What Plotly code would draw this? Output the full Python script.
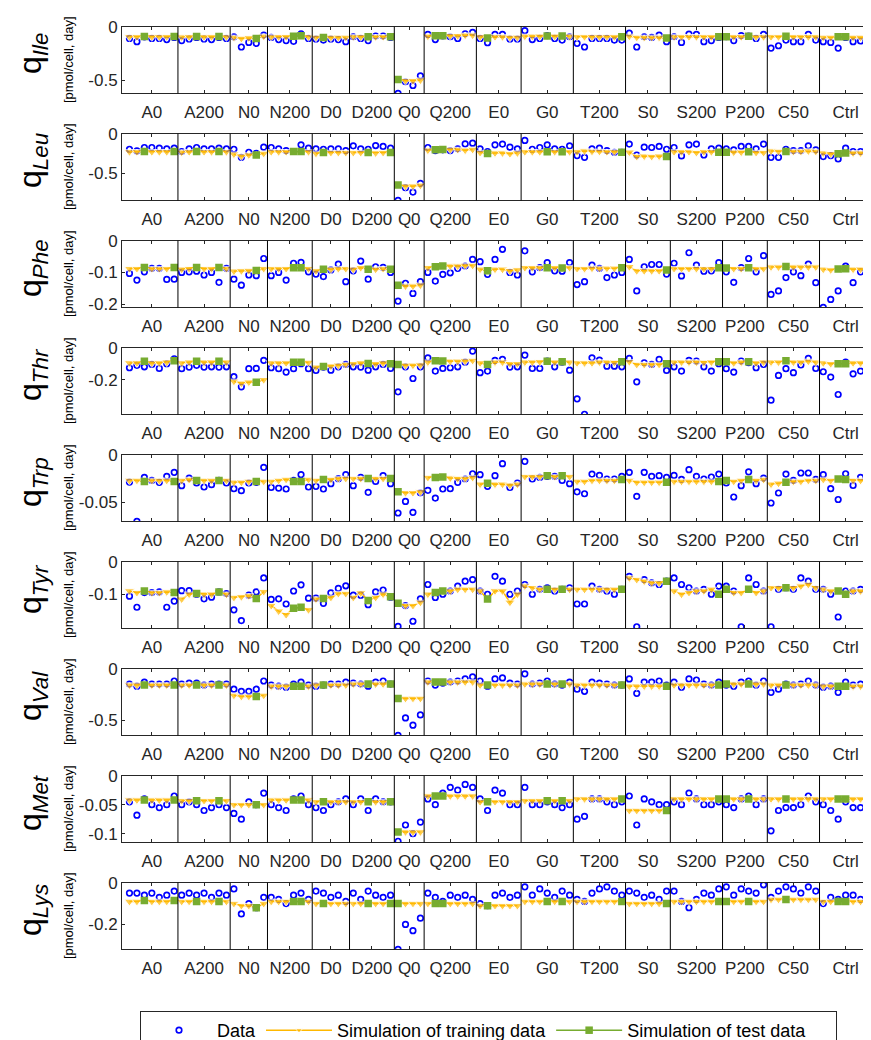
import plotly.graph_objects as go

categories = ["A0", "A200", "N0", "N200", "D0", "D200", "Q0", "Q200", "E0", "G0",
              "T200", "S0", "S200", "P200", "C50", "Ctrl"]
group_sizes = [7, 7, 5, 6, 5, 6, 4, 7, 6, 7, 7, 6, 7, 6, 7, 7]
test_points = [3, 7, 10, 13, 18, 23, 24, 27, 33, 36, 37, 42, 43, 49, 57, 59, 67, 73,
               80, 81, 84, 89, 96, 97]

names = ["Ile", "Leu", "Phe", "Thr", "Trp", "Tyr", "Val", "Met", "Lys"]

data_ile = [-0.11, -0.14, -0.095, -0.11, -0.11, -0.12, -0.10,
            -0.13, -0.115, -0.10, -0.115, -0.12, -0.10, -0.11,
            -0.095, -0.19, -0.147, -0.156, -0.078,
            -0.10, -0.12, -0.13, -0.137, -0.066, -0.11,
            -0.115, -0.125, -0.115, -0.12, -0.14,
            -0.094, -0.11, -0.13, -0.087, -0.087, -0.10,
            -0.624, -0.515, -0.55, -0.46,
            -0.072, -0.12, -0.087, -0.094, -0.11, -0.066, -0.053,
            -0.11, -0.15, -0.072, -0.072, -0.115, -0.115,
            -0.037, -0.12, -0.11, -0.084, -0.11, -0.125, -0.094,
            -0.156, -0.19, -0.11, -0.11, -0.11, -0.125, -0.125,
            -0.06, -0.19, -0.094, -0.10, -0.078, -0.14,
            -0.094, -0.147, -0.069, -0.072, -0.14, -0.13, -0.10,
            -0.094, -0.13, -0.084, -0.087, -0.11, -0.072,
            -0.20, -0.178, -0.125, -0.14, -0.14, -0.072, -0.125,
            -0.14, -0.147, -0.20, -0.10, -0.14, -0.134, -0.13]
sim_ile = [-0.095, -0.095, -0.092, -0.095, -0.095, -0.095, -0.092,
           -0.097, -0.095, -0.092, -0.095, -0.095, -0.092, -0.095,
           -0.10, -0.11, -0.105, -0.11, -0.09,
           -0.095, -0.095, -0.095, -0.09, -0.085, -0.095,
           -0.10, -0.10, -0.10, -0.10, -0.10,
           -0.095, -0.095, -0.095, -0.095, -0.095, -0.095,
           -0.495, -0.505, -0.505, -0.50,
           -0.09, -0.085, -0.085, -0.085, -0.085, -0.08, -0.08,
           -0.095, -0.105, -0.095, -0.095, -0.10, -0.10,
           -0.09, -0.09, -0.09, -0.088, -0.09, -0.088, -0.09,
           -0.095, -0.095, -0.095, -0.095, -0.095, -0.095, -0.095,
           -0.09, -0.10, -0.10, -0.10, -0.10, -0.105,
           -0.095, -0.095, -0.095, -0.095, -0.095, -0.095, -0.095,
           -0.095, -0.095, -0.095, -0.09, -0.095, -0.095,
           -0.095, -0.095, -0.09, -0.095, -0.095, -0.095, -0.095,
           -0.10, -0.10, -0.095, -0.095, -0.10, -0.10, -0.10]

data_leu = [-0.197, -0.218, -0.175, -0.175, -0.184, -0.192, -0.184,
            -0.226, -0.192, -0.175, -0.192, -0.192, -0.184, -0.192,
            -0.197, -0.30, -0.235, -0.248, -0.171,
            -0.175, -0.192, -0.214, -0.226, -0.141, -0.184,
            -0.192, -0.197, -0.192, -0.192, -0.214,
            -0.154, -0.192, -0.197, -0.15, -0.162, -0.184,
            -0.846, -0.684, -0.74, -0.63,
            -0.175, -0.214, -0.205, -0.214, -0.192, -0.13, -0.12,
            -0.192, -0.226, -0.141, -0.132, -0.171, -0.192,
            -0.085, -0.197, -0.175, -0.141, -0.192, -0.197, -0.154,
            -0.278, -0.30, -0.192, -0.184, -0.214, -0.235, -0.235,
            -0.132, -0.27, -0.171, -0.175, -0.162, -0.197,
            -0.175, -0.282, -0.141, -0.132, -0.27, -0.192, -0.184,
            -0.192, -0.205, -0.162, -0.162, -0.192, -0.132,
            -0.30, -0.30, -0.197, -0.214, -0.214, -0.154, -0.205,
            -0.29, -0.278, -0.32, -0.184, -0.226, -0.226, -0.226]
sim_leu = [-0.23, -0.23, -0.225, -0.23, -0.23, -0.23, -0.225,
           -0.235, -0.23, -0.225, -0.23, -0.23, -0.225, -0.23,
           -0.26, -0.285, -0.27, -0.27, -0.25,
           -0.23, -0.23, -0.23, -0.225, -0.225, -0.23,
           -0.25, -0.24, -0.24, -0.24, -0.24,
           -0.24, -0.24, -0.24, -0.245, -0.24, -0.24,
           -0.65, -0.665, -0.665, -0.655,
           -0.21, -0.205, -0.20, -0.20, -0.20, -0.21, -0.20,
           -0.24, -0.25, -0.245, -0.245, -0.255, -0.245,
           -0.23, -0.23, -0.23, -0.23, -0.23, -0.23, -0.23,
           -0.23, -0.22, -0.225, -0.225, -0.23, -0.23, -0.235,
           -0.235, -0.29, -0.285, -0.29, -0.285, -0.29,
           -0.23, -0.23, -0.23, -0.24, -0.23, -0.23, -0.235,
           -0.235, -0.235, -0.235, -0.23, -0.24, -0.24,
           -0.22, -0.225, -0.225, -0.225, -0.225, -0.22, -0.225,
           -0.245, -0.255, -0.255, -0.245, -0.245, -0.245, -0.245]

data_phe = [-0.103, -0.124, -0.098, -0.087, -0.087, -0.122, -0.121,
            -0.10, -0.098, -0.096, -0.108, -0.10, -0.131, -0.087,
            -0.121, -0.14, -0.108, -0.11, -0.056,
            -0.11, -0.10, -0.124, -0.071, -0.068, -0.098,
            -0.105, -0.113, -0.092, -0.074, -0.129,
            -0.095, -0.064, -0.121, -0.082, -0.084, -0.10,
            -0.19, -0.134, -0.166, -0.129,
            -0.10, -0.127, -0.106, -0.101, -0.087, -0.08, -0.059,
            -0.066, -0.106, -0.059, -0.027, -0.10, -0.108,
            -0.032, -0.098, -0.085, -0.069, -0.095, -0.096, -0.069,
            -0.138, -0.129, -0.077, -0.087, -0.116, -0.108, -0.10,
            -0.059, -0.158, -0.082, -0.075, -0.075, -0.105,
            -0.071, -0.111, -0.038, -0.077, -0.096, -0.095, -0.069,
            -0.098, -0.131, -0.085, -0.056, -0.098, -0.047,
            -0.169, -0.158, -0.116, -0.098, -0.11, -0.074, -0.132,
            -0.21, -0.185, -0.158, -0.08, -0.132, -0.098, -0.145]
sim_phe = [-0.088, -0.088, -0.084, -0.088, -0.088, -0.088, -0.084,
           -0.09, -0.088, -0.084, -0.088, -0.088, -0.084, -0.088,
           -0.096, -0.095, -0.094, -0.094, -0.088,
           -0.088, -0.088, -0.088, -0.085, -0.085, -0.088,
           -0.095, -0.09, -0.09, -0.088, -0.088,
           -0.09, -0.085, -0.09, -0.09, -0.088, -0.09,
           -0.14, -0.143, -0.143, -0.14,
           -0.085, -0.082, -0.08, -0.08, -0.08, -0.078, -0.078,
           -0.09, -0.095, -0.09, -0.09, -0.095, -0.092,
           -0.085, -0.085, -0.085, -0.085, -0.085, -0.086, -0.085,
           -0.088, -0.088, -0.087, -0.087, -0.087, -0.087, -0.085,
           -0.082, -0.095, -0.095, -0.095, -0.095, -0.092,
           -0.088, -0.088, -0.088, -0.088, -0.088, -0.088, -0.085,
           -0.086, -0.088, -0.088, -0.085, -0.088, -0.088,
           -0.083, -0.083, -0.081, -0.083, -0.083, -0.083, -0.083,
           -0.09, -0.092, -0.089, -0.088, -0.09, -0.09, -0.09]

data_thr = [-0.125, -0.11, -0.119, -0.104, -0.129, -0.10, -0.069,
            -0.131, -0.121, -0.11, -0.121, -0.119, -0.121, -0.119,
            -0.181, -0.244, -0.131, -0.129, -0.079,
            -0.125, -0.131, -0.152, -0.131, -0.10, -0.131,
            -0.142, -0.121, -0.14, -0.119, -0.104,
            -0.119, -0.121, -0.14, -0.119, -0.104, -0.129,
            -0.275, -0.119, -0.192, -0.119,
            -0.063, -0.146, -0.129, -0.125, -0.119, -0.09, -0.021,
            -0.156, -0.146, -0.079, -0.073, -0.121, -0.119,
            -0.046, -0.129, -0.129, -0.083, -0.119, -0.09, -0.14,
            -0.319, -0.415, -0.063, -0.077, -0.115, -0.115, -0.119,
            -0.067, -0.213, -0.094, -0.104, -0.073, -0.142,
            -0.119, -0.146, -0.079, -0.083, -0.119, -0.146, -0.10,
            -0.131, -0.152, -0.083, -0.094, -0.125, -0.104,
            -0.327, -0.173, -0.131, -0.156, -0.108, -0.067, -0.129,
            -0.15, -0.183, -0.292, -0.09, -0.163, -0.146, -0.142]
sim_thr = [-0.095, -0.095, -0.085, -0.095, -0.095, -0.09, -0.082,
           -0.095, -0.09, -0.085, -0.09, -0.09, -0.085, -0.09,
           -0.21, -0.222, -0.215, -0.215, -0.20,
           -0.095, -0.095, -0.095, -0.09, -0.09, -0.092,
           -0.122, -0.118, -0.115, -0.11, -0.105,
           -0.10, -0.095, -0.098, -0.10, -0.095, -0.10,
           -0.104, -0.11, -0.11, -0.108,
           -0.09, -0.082, -0.083, -0.085, -0.085, -0.083, -0.08,
           -0.095, -0.104, -0.09, -0.09, -0.10, -0.10,
           -0.09, -0.09, -0.088, -0.085, -0.09, -0.088, -0.09,
           -0.095, -0.095, -0.095, -0.09, -0.09, -0.092, -0.088,
           -0.088, -0.105, -0.105, -0.105, -0.105, -0.10,
           -0.09, -0.09, -0.09, -0.09, -0.092, -0.09, -0.088,
           -0.088, -0.095, -0.09, -0.088, -0.095, -0.09,
           -0.09, -0.09, -0.082, -0.09, -0.09, -0.085, -0.09,
           -0.095, -0.10, -0.10, -0.10, -0.095, -0.095, -0.095]

data_trp = [-0.0287, -0.070, -0.0238, -0.027, -0.029, -0.0227, -0.0185,
            -0.0325, -0.0245, -0.0297, -0.0339, -0.0315, -0.027, -0.0297,
            -0.0357, -0.0378, -0.0297, -0.029, -0.0133,
            -0.0343, -0.035, -0.036, -0.027, -0.021, -0.0339,
            -0.0332, -0.036, -0.0304, -0.0252, -0.021,
            -0.0325, -0.0238, -0.0395, -0.028, -0.022, -0.0304,
            -0.0612, -0.049, -0.0605, -0.040,
            -0.0374, -0.0455, -0.036, -0.0357, -0.029, -0.0255, -0.020,
            -0.021, -0.0332, -0.022, -0.0094, -0.0343, -0.0297,
            -0.007, -0.0255, -0.0238, -0.0227, -0.0227, -0.027, -0.0304,
            -0.039, -0.041, -0.0203, -0.0217, -0.0255, -0.0255, -0.0227,
            -0.0185, -0.0437, -0.0185, -0.0227, -0.022, -0.0238,
            -0.0217, -0.026, -0.0157, -0.0227, -0.0255, -0.0234, -0.0203,
            -0.0297, -0.0444, -0.0325, -0.018, -0.0304, -0.0245,
            -0.0507, -0.0402, -0.0203, -0.027, -0.0192, -0.0192, -0.026,
            -0.021, -0.0357, -0.047, -0.020, -0.0322, -0.0238, -0.0332]
sim_trp = [-0.027, -0.027, -0.028, -0.027, -0.027, -0.027, -0.028,
           -0.027, -0.026, -0.027, -0.027, -0.027, -0.027, -0.027,
           -0.029, -0.029, -0.028, -0.028, -0.028,
           -0.028, -0.027, -0.026, -0.028, -0.028, -0.026,
           -0.027, -0.026, -0.026, -0.025, -0.025,
           -0.025, -0.025, -0.025, -0.025, -0.025, -0.025,
           -0.039, -0.040, -0.040, -0.039,
           -0.024, -0.024, -0.0235, -0.0245, -0.025, -0.025, -0.024,
           -0.031, -0.030, -0.031, -0.031, -0.032, -0.031,
           -0.023, -0.023, -0.023, -0.022, -0.023, -0.022, -0.023,
           -0.028, -0.028, -0.027, -0.027, -0.027, -0.027, -0.026,
           -0.027, -0.029, -0.029, -0.029, -0.029, -0.029,
           -0.028, -0.028, -0.028, -0.028, -0.028, -0.028, -0.028,
           -0.027, -0.028, -0.027, -0.026, -0.027, -0.026,
           -0.031, -0.030, -0.029, -0.028, -0.028, -0.027, -0.027,
           -0.026, -0.027, -0.0255, -0.026, -0.027, -0.027, -0.027]

data_tyr = [-0.106, -0.14, -0.095, -0.095, -0.093, -0.14, -0.121,
            -0.089, -0.089, -0.10, -0.114, -0.109, -0.093, -0.098,
            -0.148, -0.181, -0.103, -0.093, -0.05,
            -0.116, -0.114, -0.13, -0.09, -0.071, -0.112,
            -0.112, -0.128, -0.096, -0.082, -0.074,
            -0.103, -0.103, -0.132, -0.093, -0.087, -0.109,
            -0.199, -0.135, -0.183, -0.114,
            -0.07, -0.11, -0.10, -0.09, -0.075, -0.06, -0.055,
            -0.09, -0.10, -0.045, -0.06, -0.10, -0.09,
            -0.07, -0.10, -0.085, -0.08, -0.09, -0.085, -0.08,
            -0.13, -0.13, -0.075, -0.085, -0.09, -0.10, -0.085,
            -0.045, -0.20, -0.055, -0.065, -0.07, -0.06,
            -0.05, -0.07, -0.08, -0.09, -0.085, -0.10, -0.075,
            -0.075, -0.09, -0.20, -0.05, -0.07, -0.09,
            -0.20, -0.085, -0.08, -0.085, -0.05, -0.06, -0.085,
            -0.085, -0.10, -0.17, -0.09, -0.09, -0.085, -0.09]
sim_tyr = [-0.09, -0.095, -0.09, -0.095, -0.095, -0.093, -0.095,
           -0.115, -0.10, -0.098, -0.10, -0.10, -0.093, -0.10,
           -0.11, -0.108, -0.105, -0.113, -0.092,
           -0.135, -0.152, -0.163, -0.143, -0.14, -0.148,
           -0.115, -0.113, -0.11, -0.098, -0.098,
           -0.11, -0.096, -0.119, -0.11, -0.10, -0.108,
           -0.128, -0.135, -0.135, -0.125,
           -0.10, -0.095, -0.09, -0.09, -0.085, -0.085, -0.085,
           -0.09, -0.115, -0.09, -0.09, -0.125, -0.10,
           -0.075, -0.08, -0.085, -0.085, -0.085, -0.085, -0.085,
           -0.085, -0.085, -0.085, -0.085, -0.085, -0.085, -0.085,
           -0.05, -0.055, -0.06, -0.065, -0.065, -0.06,
           -0.09, -0.10, -0.095, -0.09, -0.09, -0.085, -0.10,
           -0.085, -0.095, -0.095, -0.085, -0.095, -0.09,
           -0.08, -0.08, -0.08, -0.08, -0.075, -0.07, -0.08,
           -0.085, -0.09, -0.09, -0.10, -0.09, -0.09, -0.09]

data_val = [-0.15, -0.17, -0.13, -0.15, -0.15, -0.15, -0.12,
            -0.15, -0.14, -0.14, -0.16, -0.15, -0.15, -0.15,
            -0.20, -0.22, -0.22, -0.20, -0.12,
            -0.16, -0.17, -0.18, -0.15, -0.13, -0.16,
            -0.17, -0.16, -0.15, -0.15, -0.13,
            -0.14, -0.15, -0.17, -0.13, -0.12, -0.15,
            -0.65, -0.48, -0.55, -0.45,
            -0.12, -0.16, -0.14, -0.13, -0.12, -0.10, -0.08,
            -0.12, -0.17, -0.10, -0.09, -0.14, -0.15,
            -0.05, -0.15, -0.14, -0.12, -0.15, -0.16, -0.13,
            -0.20, -0.22, -0.13, -0.14, -0.15, -0.16, -0.16,
            -0.10, -0.24, -0.13, -0.13, -0.12, -0.16,
            -0.13, -0.18, -0.10, -0.11, -0.15, -0.16, -0.13,
            -0.16, -0.17, -0.13, -0.12, -0.16, -0.12,
            -0.23, -0.20, -0.15, -0.16, -0.15, -0.12, -0.16,
            -0.18, -0.17, -0.23, -0.13, -0.16, -0.15, -0.16]
sim_val = [-0.16, -0.16, -0.16, -0.16, -0.16, -0.16, -0.16,
           -0.16, -0.16, -0.16, -0.16, -0.16, -0.16, -0.16,
           -0.26, -0.27, -0.27, -0.27, -0.26,
           -0.17, -0.17, -0.17, -0.17, -0.17, -0.17,
           -0.16, -0.16, -0.16, -0.16, -0.16,
           -0.15, -0.15, -0.15, -0.15, -0.15, -0.15,
           -0.29, -0.29, -0.29, -0.29,
           -0.13, -0.13, -0.13, -0.13, -0.13, -0.13, -0.13,
           -0.16, -0.16, -0.16, -0.16, -0.16, -0.16,
           -0.15, -0.15, -0.15, -0.15, -0.15, -0.15, -0.15,
           -0.16, -0.16, -0.16, -0.16, -0.16, -0.16, -0.16,
           -0.17, -0.17, -0.17, -0.17, -0.17, -0.17,
           -0.16, -0.16, -0.16, -0.16, -0.16, -0.16, -0.16,
           -0.15, -0.15, -0.15, -0.15, -0.15, -0.15,
           -0.16, -0.16, -0.16, -0.16, -0.16, -0.16, -0.16,
           -0.17, -0.17, -0.17, -0.17, -0.17, -0.17, -0.17]

data_met = [-0.045, -0.068, -0.04, -0.05, -0.055, -0.05, -0.035,
            -0.05, -0.045, -0.05, -0.06, -0.055, -0.05, -0.055,
            -0.065, -0.075, -0.045, -0.05, -0.03,
            -0.05, -0.055, -0.06, -0.04, -0.035, -0.05,
            -0.055, -0.06, -0.05, -0.045, -0.04,
            -0.05, -0.04, -0.06, -0.04, -0.045, -0.045,
            -0.113, -0.085, -0.10, -0.08,
            -0.04, -0.05, -0.03, -0.02, -0.025, -0.015, -0.02,
            -0.04, -0.06, -0.025, -0.03, -0.05, -0.05,
            -0.02, -0.05, -0.05, -0.045, -0.05, -0.055, -0.05,
            -0.075, -0.07, -0.04, -0.04, -0.045, -0.05, -0.045,
            -0.035, -0.085, -0.04, -0.045, -0.05, -0.05,
            -0.045, -0.05, -0.03, -0.04, -0.05, -0.05, -0.045,
            -0.05, -0.055, -0.04, -0.035, -0.05, -0.04,
            -0.095, -0.06, -0.055, -0.055, -0.05, -0.035, -0.045,
            -0.05, -0.06, -0.075, -0.045, -0.055, -0.055, -0.055]
sim_met = [-0.042, -0.042, -0.042, -0.042, -0.042, -0.042, -0.042,
           -0.043, -0.043, -0.043, -0.043, -0.043, -0.043, -0.043,
           -0.05, -0.05, -0.05, -0.05, -0.05,
           -0.042, -0.042, -0.042, -0.042, -0.042, -0.042,
           -0.045, -0.045, -0.045, -0.045, -0.045,
           -0.045, -0.045, -0.045, -0.045, -0.045, -0.045,
           -0.097, -0.097, -0.097, -0.097,
           -0.035, -0.035, -0.035, -0.035, -0.035, -0.035, -0.035,
           -0.045, -0.045, -0.045, -0.045, -0.045, -0.045,
           -0.043, -0.043, -0.043, -0.043, -0.043, -0.043, -0.043,
           -0.04, -0.04, -0.04, -0.04, -0.04, -0.04, -0.04,
           -0.06, -0.06, -0.06, -0.06, -0.06, -0.06,
           -0.04, -0.04, -0.04, -0.04, -0.04, -0.04, -0.04,
           -0.04, -0.04, -0.04, -0.04, -0.04, -0.04,
           -0.04, -0.04, -0.04, -0.04, -0.04, -0.04, -0.04,
           -0.04, -0.04, -0.04, -0.04, -0.04, -0.04, -0.04]

data_lys = [-0.05, -0.05, -0.06, -0.05, -0.07, -0.06, -0.04,
            -0.06, -0.05, -0.06, -0.05, -0.07, -0.05, -0.06,
            -0.03, -0.15, -0.10, -0.12, -0.07,
            -0.07, -0.08, -0.10, -0.06, -0.05, -0.08,
            -0.04, -0.05, -0.07, -0.06, -0.09,
            -0.05, -0.08, -0.04, -0.06, -0.07, -0.06,
            -0.32, -0.20, -0.23, -0.17,
            -0.05, -0.07, -0.09, -0.06, -0.07, -0.06, -0.08,
            -0.10, -0.11, -0.06, -0.05, -0.07, -0.06,
            -0.02, -0.06, -0.03, -0.05, -0.07, -0.04, -0.06,
            -0.08, -0.09, -0.05, -0.03, -0.02, -0.04, -0.06,
            -0.04, -0.05, -0.07, -0.06, -0.08, -0.04,
            -0.04, -0.09, -0.12, -0.08, -0.05, -0.06, -0.03,
            -0.02, -0.06, -0.03, -0.04, -0.05, -0.01,
            -0.07, -0.04, -0.02, -0.03, -0.05, -0.02, -0.04,
            -0.10, -0.07, -0.08, -0.06, -0.06, -0.08, -0.07]
sim_lys = [-0.09, -0.09, -0.085, -0.09, -0.09, -0.09, -0.085,
           -0.09, -0.09, -0.09, -0.09, -0.09, -0.09, -0.09,
           -0.10, -0.11, -0.11, -0.12, -0.10,
           -0.09, -0.09, -0.09, -0.09, -0.09, -0.09,
           -0.10, -0.10, -0.10, -0.10, -0.10,
           -0.10, -0.10, -0.10, -0.10, -0.10, -0.10,
           -0.10, -0.10, -0.10, -0.10,
           -0.10, -0.10, -0.10, -0.10, -0.10, -0.10, -0.10,
           -0.11, -0.11, -0.11, -0.11, -0.11, -0.11,
           -0.09, -0.09, -0.09, -0.09, -0.09, -0.09, -0.09,
           -0.09, -0.09, -0.09, -0.09, -0.09, -0.09, -0.09,
           -0.10, -0.10, -0.10, -0.10, -0.10, -0.10,
           -0.09, -0.09, -0.09, -0.09, -0.09, -0.09, -0.09,
           -0.09, -0.09, -0.09, -0.09, -0.09, -0.09,
           -0.08, -0.08, -0.08, -0.08, -0.08, -0.08, -0.08,
           -0.09, -0.09, -0.09, -0.09, -0.09, -0.09, -0.09]

y_ranges = [[-0.624, 0], [-0.846, 0], [-0.21, 0], [-0.416, 0], [-0.07, 0],
            [-0.205, 0], [-0.65, 0], [-0.115, 0], [-0.32, 0]]
y_ticks = [[0, -0.5], [0, -0.5], [0, -0.1, -0.2], [0, -0.2], [0, -0.05],
           [0, -0.1], [0, -0.5], [0, -0.05, -0.1], [0, -0.2]]

all_data = [data_ile, data_leu, data_phe, data_thr, data_trp, data_tyr, data_val, data_met, data_lys]
all_sim = [sim_ile, sim_leu, sim_phe, sim_thr, sim_trp, sim_tyr, sim_val, sim_met, sim_lys]

# ---------------- layout geometry (page is offset 8px by the body margin) ----------------
OFF = 8
W, H = 871 - OFF, 1040 - OFF
LEFT = 122 - OFF
TOP0 = 26.7 - OFF
STEP = 107.0
PH = 66.7

x_idx = list(range(1, 101))
bounds = []
c = 0
for g in group_sizes:
    bounds.append((c + 1, c + g))
    c += g
centers = [(a + b) / 2 for a, b in bounds]
seps = [b + 0.5 for a, b in bounds[:-1]]

BLUE = "#0000FF"
ORANGE = "#FFB800"
GREEN = "#77AC30"
TXT = "#262626"
FONT = "Liberation Sans, Arial, sans-serif"

fig = go.Figure()
layout = dict(width=W, height=H, margin=dict(l=LEFT, r=0, t=0, b=0, autoexpand=False),
              plot_bgcolor="white", paper_bgcolor="white",
              font=dict(family=FONT, color=TXT, size=17))
shapes = []
annotations = []
PW = W - LEFT

for i, nm in enumerate(names):
    top = TOP0 + STEP * i
    bot = top + PH
    dom = [1 - bot / H, 1 - top / H]
    ax = "" if i == 0 else str(i + 1)
    xa, ya = "x" + ax, "y" + ax
    d = all_data[i]
    s = all_sim[i]

    lx, ly, msz = [], [], []
    for (a, b) in bounds:
        for k in range(a, b + 1):
            lx.append(k)
            ly.append(s[k - 1])
            msz.append(0 if k in test_points else 9)
        lx.append(None)
        ly.append(None)
        msz.append(0)
    tx, ty = [], []
    prev = None
    for k in test_points:
        if prev is not None and not (k == prev + 1 and any(a <= prev and k <= b for a, b in bounds)):
            tx.append(None)
            ty.append(None)
        tx.append(k)
        ty.append(s[k - 1])
        prev = k

    fig.add_trace(go.Scatter(x=x_idx, y=d, mode="markers", xaxis=xa, yaxis=ya,
                             name="Data", showlegend=(i == 0),
                             marker=dict(symbol="circle-open", size=5.5, color=BLUE,
                                         line=dict(width=1.7, color=BLUE))))
    fig.add_trace(go.Scatter(x=lx, y=ly, mode="lines+markers", xaxis=xa, yaxis=ya,
                             name="Simulation of training data",
                             showlegend=(i == 0), connectgaps=False,
                             line=dict(color=ORANGE, width=1.5),
                             marker=dict(symbol="triangle-down", size=msz, color=ORANGE)))
    fig.add_trace(go.Scatter(x=tx, y=ty, mode="lines+markers", xaxis=xa, yaxis=ya,
                             name="Simulation of test data\u00a0\u00a0\u00a0\u00a0\u00a0",
                             showlegend=(i == 0), connectgaps=False,
                             line=dict(color=GREEN, width=1.5),
                             marker=dict(symbol="square", size=7.5, color=GREEN)))

    layout["xaxis" + ax] = dict(domain=[0, 1], range=[0, 100.4], anchor=ya, automargin=False,
                                tickvals=centers, ticktext=categories,
                                ticks="inside", ticklen=3, tickcolor=TXT,
                                ticklabelstandoff=3,
                                showline=True, linecolor=TXT, linewidth=1, mirror="ticks",
                                showgrid=False, zeroline=False,
                                tickfont=dict(size=17, color=TXT, family=FONT))
    layout["yaxis" + ax] = dict(domain=dom, range=y_ranges[i], anchor=xa, automargin=False,
                                tickvals=y_ticks[i],
                                ticktext=[("0" if t == 0 else ("%g" % t)) for t in y_ticks[i]],
                                ticks="inside", ticklen=3, tickcolor=TXT,
                                showline=True, linecolor=TXT, linewidth=1, mirror=False,
                                showgrid=False, zeroline=False,
                                tickfont=dict(size=17, color=TXT, family=FONT))
    for sx in seps:
        shapes.append(dict(type="line", xref=xa, yref=ya + " domain", x0=sx, x1=sx, y0=0, y1=1,
                           line=dict(color="black", width=1)))
    ymid = 1 - (top + PH / 2) / H
    annotations.append(dict(xref="paper", yref="paper", x=(24 - LEFT) / PW, y=ymid + 6 / H,
                            text="q<sub><i>" + nm + "</i></sub>", showarrow=False, textangle=-90,
                            font=dict(size=32, color="black", family=FONT),
                            xanchor="center", yanchor="middle"))
    annotations.append(dict(xref="paper", yref="paper", x=(60 - LEFT) / PW, y=ymid,
                            text="[pmol/cell, day]", showarrow=False, textangle=-90,
                            font=dict(size=13, color="black", family=FONT),
                            xanchor="center", yanchor="middle"))

layout["shapes"] = shapes
layout["annotations"] = annotations
layout["showlegend"] = True
layout["legend"] = dict(orientation="h", x=(140 - OFF - LEFT) / PW, xanchor="left",
                        y=1 - (1011 - OFF) / H, yanchor="top", bgcolor="white",
                        bordercolor=TXT, borderwidth=1,
                        font=dict(size=18, color="black", family=FONT),
                        traceorder="normal", itemwidth=66)
fig.update_layout(**layout)
fig.write_html("out.html")
